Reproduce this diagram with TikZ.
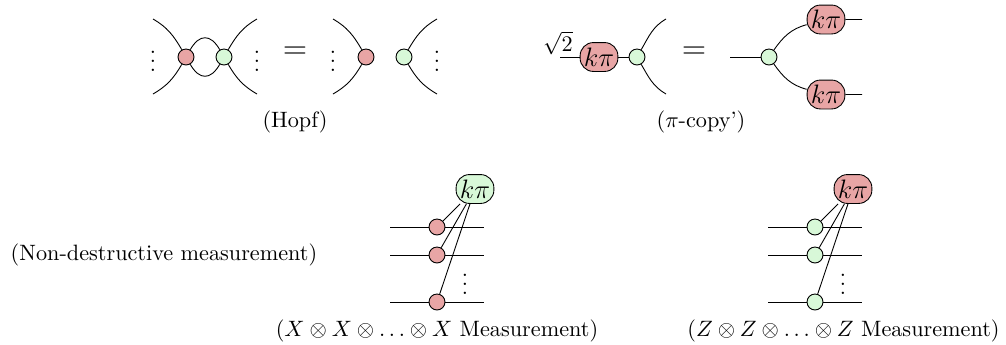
\documentclass[tikz,border=0pt]{standalone}
\usepackage{amsmath}
\usepackage{amssymb}
\usetikzlibrary{calc,positioning}
\definecolor{zred}{HTML}{E8A5A5}
\definecolor{zgreen}{HTML}{D8F8D8}
% one wire leaving a spider along a curve
\newcommand{\legs}[4]{%
  \coordinate (#1u) at (#3,19);
  \coordinate (#1d) at (#3,94);
  \draw (#1) to[out=#2,in=#4] (#1u);
  \draw (#1) to[out=-#2,in=-#4] (#1d);
}
% spiders on three horizontal wires, joined to one phase box
\newcommand{\measure}[6]{%
  \node[box, fill=#3] (#1k) at (#2,189) {$k\pi$};
  \foreach \row/\ypos in {a/227,b/255,c/302} {
    \node[spider, fill=#4] (#1\row) at (#5,\ypos) {};
    \coordinate (#1\row l) at (#5-47,\ypos);
    \coordinate (#1\row r) at (#5+47,\ypos);
    \draw (#1\row l) -- (#1\row) -- (#1\row r);
    \draw (#1\row) -- (#1k);
  }
  \node[dotsv] (#1dots) at (#5+28,278) {};
  \node (#1lbl) at (#6,331) {($#1 \otimes #1 \otimes \ldots \otimes #1$ Measurement)};
}

\begin{document}
\begin{tikzpicture}[
    x=0.45pt, y=-0.45pt,
    spider/.style={draw, circle, inner sep=0pt, minimum size=7.2pt},
    box/.style={draw, rectangle, rounded corners=6pt, inner sep=0pt, minimum width=17pt, minimum height=13pt, font=\fontsize{11.5}{13}\selectfont},
    dotsv/.style={inner sep=0pt, label={[inner sep=0pt]center:$\vdots$}},
]
\useasboundingbox (0,0) rectangle (1006,345);

% ---------- Hopf ----------
\node[spider, fill=zred] (h1) at (186,57) {};
\node[spider, fill=zgreen] (h2) at (224,57) {};
\draw (h1) to[out=60,in=120,looseness=1.6] (h2);
\draw (h1) to[out=-60,in=-120,looseness=1.6] (h2);
\legs{h1}{120}{153}{-30}
\legs{h2}{60}{257}{-150}
\node[dotsv] (hd1) at (153,55) {};
\node[dotsv] (hd2) at (257,55) {};
\node (heq) at (295,53) {\Large $=$};
\node[spider, fill=zred] (h3) at (366,57) {};
\node[spider, fill=zgreen] (h4) at (404,57) {};
\legs{h3}{120}{333}{-30}
\legs{h4}{60}{437}{-150}
\node[dotsv] (hd3) at (333,55) {};
\node[dotsv] (hd4) at (437,55) {};
\node (hlbl) at (295,122) {(Hopf)};

% ---------- pi copy ----------
\coordinate (p0) at (560,57);
\node (proot) at (558,43) {$\sqrt{2}$};
\node[box, fill=zred] (p1) at (599,57) {$k\pi$};
\node[spider, fill=zgreen] (p2) at (637,57) {};
\draw (p0) -- (p1) -- (p2);
\legs{p2}{60}{666}{-150}
\node (peq) at (694,53) {\Large $=$};
\coordinate (p3) at (730,57);
\node[spider, fill=zgreen] (p4) at (769,57) {};
\node[box, fill=zred] (p5) at (826,19.5) {$k\pi$};
\node[box, fill=zred] (p6) at (826,94.5) {$k\pi$};
\coordinate (p5r) at (862,19.5);
\coordinate (p6r) at (862,94.5);
\draw (p3) -- (p4);
\draw (p4) to[out=55,in=195] (p5) (p5) -- (p5r);
\draw (p4) to[out=-55,in=165] (p6) (p6) -- (p6r);
\node (plbl) at (701,122) {($\pi$-copy')};

% ---------- measurements ----------
\node (mlbl) at (164,255) {(Non-destructive measurement)};
\measure{X}{475}{zgreen}{zred}{437}{437}
\measure{Z}{853}{zred}{zgreen}{815}{843.5}

\end{tikzpicture}
\end{document}
